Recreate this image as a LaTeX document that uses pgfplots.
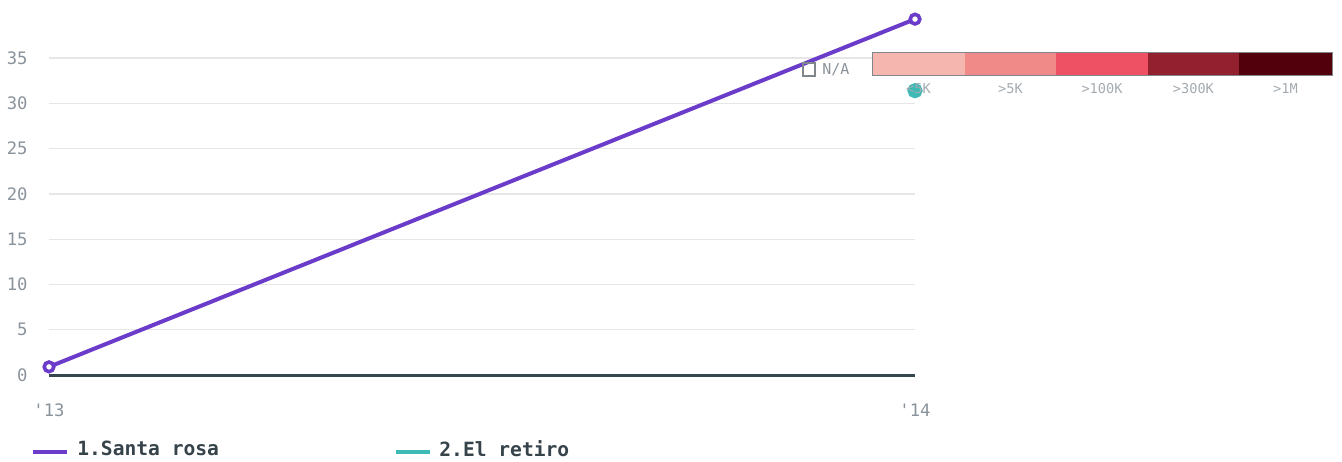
\documentclass[border=0pt]{standalone}
\usepackage{fontspec}
\setmainfont{DejaVu Sans}
\setmonofont{DejaVu Sans Mono}
\usepackage{pgfplots}
\pgfplotsset{compat=1.18}
\definecolor{purp}{HTML}{6B3CC9}
\definecolor{teal2}{HTML}{3DBAB6}
\definecolor{tickgray}{HTML}{8A939B}
\definecolor{lightgray2}{HTML}{A3AAB0}
\definecolor{gridc}{HTML}{E6E6E6}
\definecolor{axisdark}{HTML}{37474F}
\definecolor{legdark}{HTML}{36434B}
\definecolor{cA}{HTML}{F4B6AE}
\definecolor{cB}{HTML}{F08A88}
\definecolor{cC}{HTML}{EE5064}
\definecolor{cD}{HTML}{93202E}
\definecolor{cE}{HTML}{52000B}
\definecolor{boxgray}{HTML}{7F878C}
\begin{document}
\begin{tikzpicture}
\begin{axis}[
  at={(0,0)}, anchor=origin,
  scale only axis,
  width=433pt, height=181.1pt,
  xmin=0, xmax=1, ymin=0, ymax=40,
  clip=false,
  axis line style={draw=none},
  major tick length=0pt,
  xtick={0,1}, xticklabels={'13,'14},
  ytick={0,5,...,35},
  ymajorgrids, grid style={gridc, line width=0.6pt},
  /pgf/number format/assume math mode=true,
  tick label style={font=\ttfamily\fontsize{8.6}{10}\selectfont, text=tickgray},
  yticklabel style={anchor=east, inner sep=0pt, xshift=-10.5pt},
  xticklabel style={anchor=center, inner sep=0pt, yshift=-17.5pt},
]
\draw[axisdark, line width=1.5pt] (axis cs:0,0) -- (axis cs:1,0);
\addplot[purp, line width=2pt, mark=*, mark size=2.4pt,
  mark options={draw=purp, fill=white, line width=1.8pt}]
  coordinates {(0,0.9) (1,39.3)};
\addplot[teal2, line width=2pt, mark=*, mark size=2.8pt,
  mark options={fill=teal2, draw=teal2}]
  coordinates {(1,31.4)};
\end{axis}
% colour scale legend
\fill[cA] (411.5pt,149.5pt) rectangle (458pt,161pt);
\fill[cB] (458pt,149.5pt) rectangle (503.5pt,161pt);
\fill[cC] (503.5pt,149.5pt) rectangle (549.5pt,161pt);
\fill[cD] (549.5pt,149.5pt) rectangle (595pt,161pt);
\fill[cE] (595pt,149.5pt) rectangle (641.5pt,161pt);
\draw[boxgray, line width=0.5pt] (411.5pt,149.5pt) rectangle (641.5pt,161pt);
\draw[boxgray, line width=0.6pt] (377pt,149.5pt) rectangle (383pt,156pt);
\node[anchor=west, inner sep=0pt, text=tickgray, font=\ttfamily\fontsize{7.5}{9}\selectfont] at (386.5pt,152.5pt) {N/A};
\foreach \xx/\lab in {434.7/{<5K}, 480.7/{>5K}, 526.5/{>100K}, 572.2/{>300K}, 618.2/{>1M}}{
  \node[text=lightgray2, inner sep=0pt, font=\ttfamily\fontsize{6.8}{8}\selectfont] at (\xx pt,143pt) {\lab};
}
% series legend
\draw[purp, line width=2pt] (-8pt,-38.5pt) -- (9pt,-38.5pt);
\node[anchor=west, inner sep=0pt, text=legdark, font=\ttfamily\bfseries\fontsize{9.8}{11}\selectfont] at (14pt,-36.8pt) {1.Santa rosa};
\draw[teal2, line width=2pt] (173.5pt,-38.5pt) -- (190.5pt,-38.5pt);
\node[anchor=west, inner sep=0pt, text=legdark, font=\ttfamily\bfseries\fontsize{9.8}{11}\selectfont] at (195pt,-36.8pt) {2.El retiro};
\path[use as bounding box] (-24.5pt,-43pt) rectangle (646.5pt,187.5pt);
\end{tikzpicture}
\end{document}
